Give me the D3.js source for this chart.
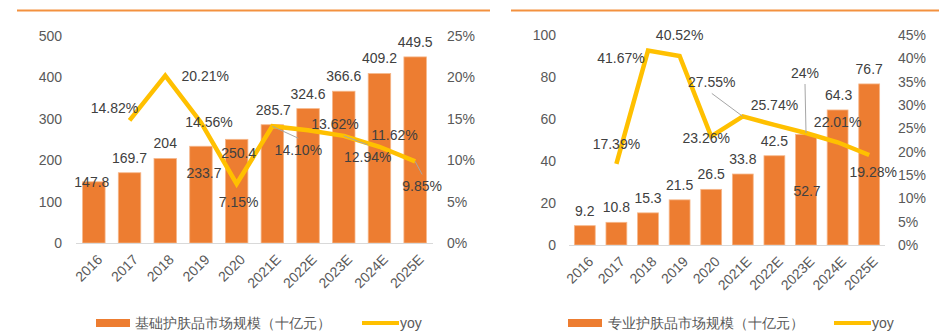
<!DOCTYPE html>
<html>
<head>
<meta charset="utf-8">
<script src="https://cdn.jsdelivr.net/npm/d3@7/dist/d3.min.js"></script>
<style>
  html, body { margin: 0; padding: 0; background: #fff; }
  svg { display: block; }
  text { font-family: "Liberation Sans", Arial, sans-serif; }
</style>
</head>
<body>
<svg id="chart" width="939" height="335"></svg>
<script>
// ---------- data ----------
const years = ["2016", "2017", "2018", "2019", "2020", "2021E", "2022E", "2023E", "2024E", "2025E"];

const basicValues = [147.8, 169.7, 204, 233.7, 250.4, 285.7, 324.6, 366.6, 409.2, 449.5];
const basicYoy = [null, 14.82, 20.21, 14.56, 7.15, 14.10, 13.62, 12.94, 11.62, 9.85];
const basicYoyText = [null, "14.82%", "20.21%", "14.56%", "7.15%", "14.10%", "13.62%", "12.94%", "11.62%", "9.85%"];

const proValues = [9.2, 10.8, 15.3, 21.5, 26.5, 33.8, 42.5, 52.7, 64.3, 76.7];
const proYoy = [null, 17.39, 41.67, 40.52, 23.26, 27.55, 25.74, 24, 22.01, 19.28];
const proYoyText = [null, "17.39%", "41.67%", "40.52%", "23.26%", "27.55%", "25.74%", "24%", "22.01%", "19.28%"];

const basicLeftTicks = [0, 100, 200, 300, 400, 500];
const basicRightTicks = [0, 5, 10, 15, 20, 25];
const proLeftTicks = [0, 20, 40, 60, 80, 100];
const proRightTicks = [0, 5, 10, 15, 20, 25, 30, 35, 40, 45];

const basicLegend = ["基础护肤品市场规模（十亿元）", "yoy"];
const proLegend = ["专业护肤品市场规模（十亿元）", "yoy"];

// ---------- label placement (offsets from the mark, px) ----------
const basicBarLabelOff = [[-2, 0], [0, -15], [0, -15], [3, 27], [2, 14], [1, -15], [0, -15], [0, -15], [0, -15], [0, -15]];
const basicYoyLabelOff = [null, [-15, -12], [40, 0], [8, 0], [2, 18], [26, 24], [27, -6], [24, 21], [15, -12], [7, 25]];
const basicLeaders = [false, false, false, false, false, true, false, true, false, true];

const proBarLabelOff = [[0, -15], [0, -15], [0, -15], [0, -15], [0, -15], [0, -15], [0, -15], [1, 57], [1, -15], [0, -15]];
const proYoyLabelOff = [null, [0, -20], [-27, 8], [0, -21], [-5, 2], [-31, -34], [0, -20], [-1, -60], [0, -20], [4, 17]];
const proLeaders = [false, false, false, false, false, true, false, true, false, false];

// ---------- styles ----------
const BAR = "#ED7D31";
const LINE = "#FFC000";
const TXT = "#404040";
const AXT = "#595959";

const svg = d3.select("#chart");

// top orange rules
svg.append("line").attr("x1", 17).attr("x2", 490).attr("y1", 10.5).attr("y2", 10.5)
  .attr("stroke", "#F3913F").attr("stroke-width", 2);
svg.append("line").attr("x1", 511).attr("x2", 939).attr("y1", 10.5).attr("y2", 10.5)
  .attr("stroke", "#F3913F").attr("stroke-width", 2);

function drawChart(cfg) {
  const g = svg.append("g");
  const x = d3.scaleBand().domain(years).range([cfg.x0, cfg.x1])
    .paddingInner(cfg.pad).paddingOuter(cfg.pad / 2);
  const y = d3.scaleLinear().domain([0, cfg.leftTicks[cfg.leftTicks.length - 1]]).range([cfg.yBase, cfg.yTop]);
  const y2 = d3.scaleLinear().domain([0, cfg.rightTicks[cfg.rightTicks.length - 1]]).range([cfg.yBase, cfg.yTop]);

  // left axis
  const la = g.append("g").attr("transform", `translate(${cfg.leftAxisX},0)`)
    .call(d3.axisLeft(y).tickValues(cfg.leftTicks).tickSize(0).tickPadding(0).tickFormat(d3.format("d")));
  la.select(".domain").remove();
  la.selectAll("text").attr("fill", AXT).style("font-size", "14px")
    .style("font-family", '"Liberation Sans", Arial, sans-serif');

  // right axis
  const ra = g.append("g").attr("transform", `translate(${cfg.rightAxisX},0)`)
    .call(d3.axisRight(y2).tickValues(cfg.rightTicks).tickSize(0).tickPadding(0).tickFormat(d => d + "%"));
  ra.select(".domain").remove();
  ra.selectAll("text").attr("fill", AXT).style("font-size", "14px")
    .style("font-family", '"Liberation Sans", Arial, sans-serif');

  // bars
  g.selectAll("rect.bar").data(cfg.values).join("rect")
    .attr("class", "bar")
    .attr("x", (d, i) => x(years[i]))
    .attr("width", x.bandwidth())
    .attr("y", d => y(d))
    .attr("height", d => cfg.yBase - y(d))
    .attr("fill", BAR)
    .attr("stroke", "#F6B78A").attr("stroke-width", 0.8);

  // baseline
  g.append("line").attr("x1", cfg.x0).attr("x2", cfg.x1)
    .attr("y1", cfg.yBase + 0.5).attr("y2", cfg.yBase + 0.5)
    .attr("stroke", "#D9D9D9").attr("stroke-width", 1);

  // x tick labels (rotated)
  const xa = g.append("g").attr("transform", `translate(0,${cfg.yBase})`)
    .call(d3.axisBottom(x).tickSize(0).tickPadding(0));
  xa.select(".domain").remove();
  xa.selectAll("text")
    .attr("fill", AXT).style("font-size", "14px")
    .style("font-family", '"Liberation Sans", Arial, sans-serif')
    .attr("text-anchor", "end")
    .attr("x", 0).attr("y", 0).attr("dy", "0.35em")
    .attr("transform", "translate(6,14) rotate(-45)");

  // yoy line
  const pts = cfg.yoy.map((v, i) => v == null ? null : [x(years[i]) + x.bandwidth() / 2, y2(v)]);
  const line = d3.line().defined(d => d != null);
  g.append("path").attr("d", line(pts))
    .attr("fill", "none").attr("stroke", LINE).attr("stroke-width", 4.5)
    .attr("stroke-linejoin", "miter").attr("stroke-linecap", "butt");

  // leader lines
  pts.forEach((p, i) => {
    if (!p || !cfg.leaders[i]) return;
    const o = cfg.yoyOff[i];
    const lx = p[0] + o[0], ly = p[1] + o[1];
    const ey = ly + (p[1] > ly ? 11 : -12);
    g.append("line").attr("x1", p[0]).attr("y1", p[1]).attr("x2", lx).attr("y2", ey)
      .attr("stroke", "#A6A6A6").attr("stroke-width", 1);
  });

  // bar labels
  g.selectAll("text.bl").data(cfg.values).join("text")
    .attr("class", "bl")
    .attr("x", (d, i) => x(years[i]) + x.bandwidth() / 2 + cfg.barOff[i][0])
    .attr("y", (d, i) => y(d) + cfg.barOff[i][1])
    .attr("dy", "0.35em").attr("text-anchor", "middle")
    .attr("fill", TXT).style("font-size", "14px")
    .text(d => d);

  // yoy labels
  pts.forEach((p, i) => {
    if (!p) return;
    const o = cfg.yoyOff[i];
    g.append("text").attr("x", p[0] + o[0]).attr("y", p[1] + o[1])
      .attr("dy", "0.35em").attr("text-anchor", "middle")
      .attr("fill", TXT).style("font-size", "14px")
      .text(cfg.yoyText[i]);
  });

  // legend
  const L = cfg.legend;
  g.append("rect").attr("x", L.rx).attr("y", 319).attr("width", 34).attr("height", 8).attr("fill", BAR);
  g.append("text").attr("x", L.tx).attr("y", 323).attr("dy", "0.35em")
    .attr("fill", AXT).style("font-size", "14px").text(cfg.legendText[0]);
  g.append("line").attr("x1", L.lx).attr("x2", L.lx + 37).attr("y1", 323).attr("y2", 323)
    .attr("stroke", LINE).attr("stroke-width", 4);
  g.append("text").attr("x", L.lx + 38).attr("y", 323).attr("dy", "0.35em")
    .attr("fill", AXT).style("font-size", "14px").text(cfg.legendText[1]);
}

drawChart({
  values: basicValues, yoy: basicYoy, yoyText: basicYoyText,
  leftTicks: basicLeftTicks, rightTicks: basicRightTicks,
  barOff: basicBarLabelOff, yoyOff: basicYoyLabelOff, leaders: basicLeaders,
  x0: 76, x1: 433, pad: 0.37, yBase: 243, yTop: 36,
  leftAxisX: 62, rightAxisX: 447,
  legend: { rx: 96, tx: 135, lx: 362 }, legendText: basicLegend
});

drawChart({
  values: proValues, yoy: proYoy, yoyText: proYoyText,
  leftTicks: proLeftTicks, rightTicks: proRightTicks,
  barOff: proBarLabelOff, yoyOff: proYoyLabelOff, leaders: proLeaders,
  x0: 569, x1: 885, pad: 0.34, yBase: 245, yTop: 35,
  leftAxisX: 556, rightAxisX: 898,
  legend: { rx: 568, tx: 608, lx: 834 }, legendText: proLegend
});
</script>
</body>
</html>
